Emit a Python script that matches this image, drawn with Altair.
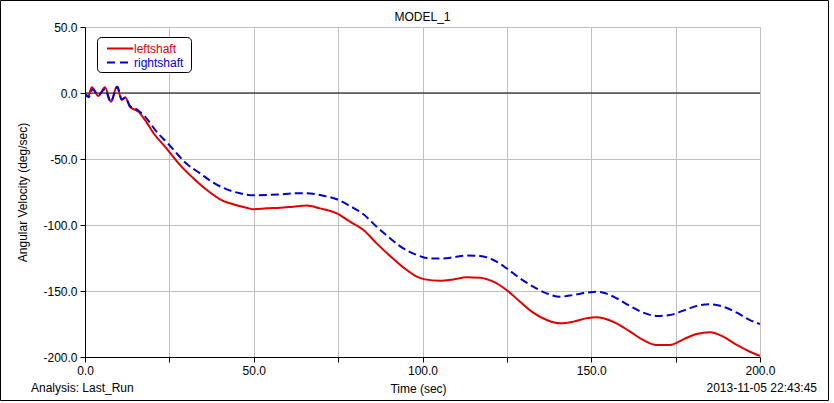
import altair as alt
import pandas as pd

# ---- data ----
left_t = [0, 1, 2.0, 4.0, 5.9, 7.7, 9.4, 10.9, 11.9, 13.3, 15.8, 17.8, 20.7, 23.7, 25.7,
          28.1, 32.1, 36.1, 40.0, 43.9, 47.9, 49.9, 53.8, 57.8, 61.7, 65.7, 69.6,
          74.6, 78.5, 82.5, 86.4, 90.4, 94.3, 98.3, 100.7, 105.2, 109.1, 113.1, 117.0,
          121.0, 124.9, 128.9, 132.8, 136.8, 140.7, 144.7, 148.6, 151.6, 153.6, 157.5,
          161.5, 165.4, 169.4, 173.3, 177.3, 181.2, 185.2, 189.1, 193.1, 197.0, 200.0]
left_v = [-1, -2, 4.3, -2.3, 4.3, -6.6, 4.8, -5.3, -3.3, -10.4, -14.1, -20.5, -31.8, -40.7, -47,
          -54.5, -64.6, -73.5, -80.5, -84.3, -86.9, -88.1, -87.4, -86.9, -86.1, -85.3, -87.4,
          -91.2, -97.5, -103.8, -113.9, -123.5, -132.1, -139.1, -141.2, -142.2, -141.2, -139.6, -139.9,
          -142.9, -149.2, -158.1, -166.4, -172.0, -174.5, -173.2, -170.7, -169.9, -170.7, -174.5,
          -180.8, -187.1, -190.9, -190.9, -186.6, -182.6, -181.3, -184.6, -190.9, -196.0, -199.2]

right_t = [0, 1.0, 2.3, 3.9, 5.9, 7.6, 9.6, 10.9, 12.0, 13.3, 15.3, 17.8, 21.2, 24.7, 26.7,
           29.6, 34.1, 38.0, 42.0, 45.9, 49.9, 53.8, 57.8, 61.7, 65.7, 70.6, 74.6, 78.5,
           82.5, 86.4, 90.4, 94.3, 98.3, 102.2, 106.2, 109.1, 113.1, 117.0, 121.0, 124.9,
           128.9, 132.8, 136.8, 140.7, 144.7, 148.6, 151.6, 153.6, 157.5, 161.5, 165.4,
           169.4, 173.3, 177.3, 181.2, 185.2, 189.1, 193.1, 197.0, 200.0]
right_v = [0, -3.3, 2.8, -1.5, 2.8, -6.6, 4.8, -4.8, -3.5, -9.8, -12.4, -17.9, -29.3, -38.6, -44.4,
           -52.5, -60.9, -67.9, -73.0, -76.0, -77.5, -77.3, -76.8, -76.0, -76.0, -77.8, -80.5, -85.6,
           -91.9, -101.3, -110.1, -117.7, -122.7, -125.3, -125.3, -124.5, -123.2, -123.5, -126.5, -132.8,
           -140.4, -146.7, -151.8, -154.3, -153.0, -151.3, -150.5, -151.3, -155.5, -161.4, -166.4,
           -168.9, -168.2, -164.9, -161.4, -160.1, -161.9, -166.4, -172.0, -175.0]

series_names = ["leftshaft", "rightshaft"]
series_colors = ["#e00000", "#0000d0"]
x_ticks = [0, 25, 50, 75, 100, 125, 150, 175, 200]
y_ticks = [50, 25, 0, -25, -50, -75, -100, -125, -150, -175, -200]

title_text = "MODEL_1"
x_title = "Time (sec)"
y_title = "Angular Velocity (deg/sec)"
analysis_text = "Analysis:  Last_Run"
date_text = "2013-11-05 22:43:45"

FONT = "Liberation Sans"
W, H = 675, 330

df_left = pd.DataFrame({"t": left_t, "v": left_v, "s": series_names[0]})
df_right = pd.DataFrame({"t": right_t, "v": right_v, "s": series_names[1]})

label_expr = ("datum.value % 50 == 0 ? (datum.value < 0 ? '-' + format(-datum.value, '.1f') "
              ": format(datum.value, '.1f')) : ''")

xs = alt.Scale(domain=[0, 200], nice=False, zero=False)
ys = alt.Scale(domain=[-200, 50], nice=False, zero=False)

x_axis = alt.Axis(values=x_ticks, labelExpr=label_expr, grid=True, gridColor="#c0c0c0",
                  domainColor="black", tickColor="black", tickSize=5, labelFont=FONT,
                  labelFontSize=12, labelColor="black", labelPadding=3, title=x_title,
                  titleFont=FONT, titleFontSize=12, titleFontWeight="normal", titleColor="black",
                  titleX=333, titleY=31, titleBaseline="middle", labelFlush=False)
y_axis = alt.Axis(values=y_ticks, labelExpr=label_expr, grid=True, gridColor="#c0c0c0",
                  domainColor="black", tickColor="black", tickSize=5, labelFont=FONT,
                  labelFontSize=12, labelColor="black", labelPadding=3, title=y_title,
                  titleFont=FONT, titleFontSize=12, titleFontWeight="normal", titleColor="black",
                  titleAngle=270, titleX=-63, titleY=H / 2, titleAlign="center",
                  titleBaseline="middle", labelFlush=False)

red = alt.Chart(df_left).mark_line(color=series_colors[0], strokeWidth=2, clip=True,
                                   interpolate="monotone").encode(
    x=alt.X("t:Q", scale=xs, axis=x_axis),
    y=alt.Y("v:Q", scale=ys, axis=y_axis),
)
blue = alt.Chart(df_right).mark_line(color=series_colors[1], strokeWidth=2,
                                      strokeDash=[8, 4], clip=True,
                                      interpolate="monotone").encode(
    x=alt.X("t:Q", scale=xs),
    y=alt.Y("v:Q", scale=ys),
)

zero = alt.Chart(pd.DataFrame({"z": [0]})).mark_rule(color="black", strokeWidth=1).encode(
    y=alt.Y("z:Q", scale=ys)
)

one = pd.DataFrame({"a": [0]})
legend_box = alt.Chart(one).mark_rect(fill="white", stroke="black", strokeWidth=1,
                                      cornerRadius=4).encode(
    x=alt.value(12.5), x2=alt.value(106.5), y=alt.value(10.5), y2=alt.value(45.5))
leg_red = alt.Chart(one).mark_rule(color=series_colors[0], strokeWidth=2).encode(
    x=alt.value(22), x2=alt.value(48), y=alt.value(21.5))
leg_blue = alt.Chart(one).mark_rule(color=series_colors[1], strokeWidth=2,
                                    strokeDash=[8, 5]).encode(
    x=alt.value(22), x2=alt.value(48), y=alt.value(35.5))
leg_red_t = alt.Chart(one).mark_text(text=series_names[0], color=series_colors[0], font=FONT,
                                     fontSize=12, align="left", baseline="middle").encode(
    x=alt.value(49), y=alt.value(21.5))
leg_blue_t = alt.Chart(one).mark_text(text=series_names[1], color=series_colors[1], font=FONT,
                                      fontSize=12, align="left", baseline="middle").encode(
    x=alt.value(49), y=alt.value(35.5))

title_mark = alt.Chart(one).mark_text(text=title_text, color="black", font=FONT, fontSize=12,
                                      align="center", baseline="middle").encode(
    x=alt.value(W / 2), y=alt.value(-10))
analysis = alt.Chart(one).mark_text(text=analysis_text, color="black", font=FONT, fontSize=12,
                                    align="left", baseline="middle").encode(
    x=alt.value(-54), y=alt.value(361))
date = alt.Chart(one).mark_text(text=date_text, color="black", font=FONT, fontSize=12,
                                align="right", baseline="middle").encode(
    x=alt.value(732), y=alt.value(361))
frame = alt.Chart(one).mark_rect(fill=None, stroke="black", strokeWidth=1).encode(
    x=alt.value(-84.5), x2=alt.value(743.5), y=alt.value(-26.5), y2=alt.value(373.5))

chart = alt.layer(
    zero, red, blue, legend_box, leg_red, leg_blue, leg_red_t, leg_blue_t,
    title_mark, analysis, date, frame
).properties(
    width=W, height=H,
    autosize=alt.AutoSizeParams(type="none"),
    padding={"left": 85, "top": 27, "right": 74, "bottom": 46},
).configure_view(stroke="black", strokeWidth=1).configure(background="white")

chart.save("out.html", embed_options={"renderer": "svg", "actions": False})
